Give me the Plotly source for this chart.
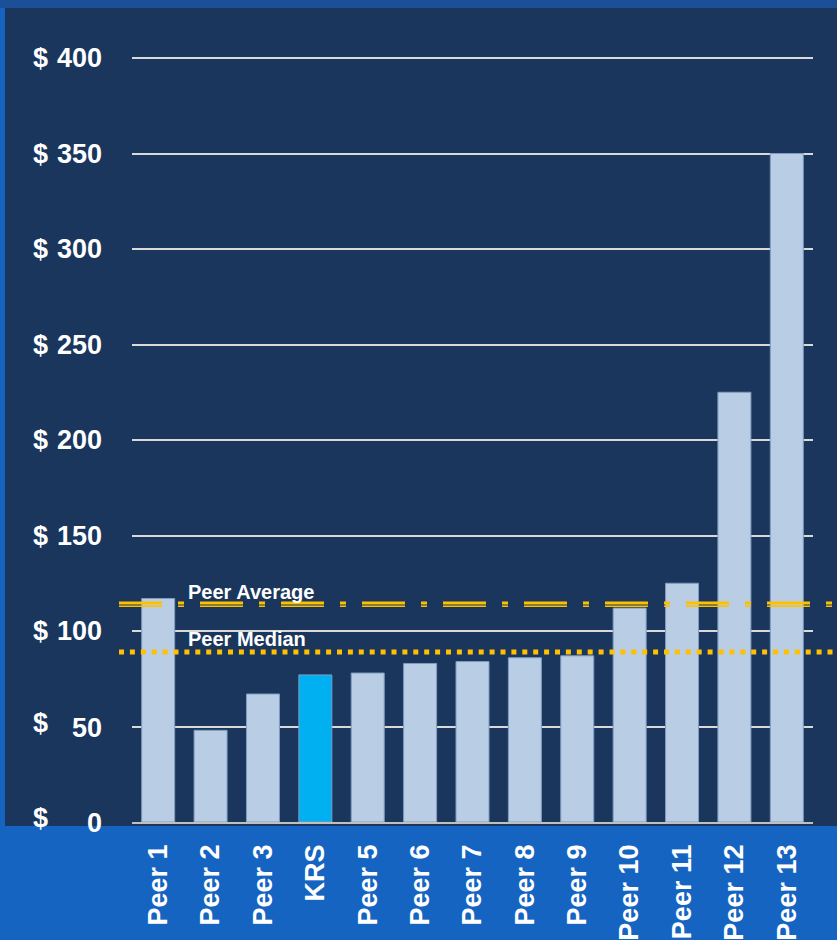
import plotly.graph_objects as go

categories = ["Peer 1", "Peer 2", "Peer 3", "KRS", "Peer 5", "Peer 6", "Peer 7",
              "Peer 8", "Peer 9", "Peer 10", "Peer 11", "Peer 12", "Peer 13"]
values = [117, 48, 67, 77, 78, 83, 84, 86, 87, 112, 125, 225, 350]
highlight = "KRS"
peer_average = 114
peer_median = 89
y_ticks = [0, 50, 100, 150, 200, 250, 300, 350, 400]
y_tick_numbers = ["0", "50", "100", "150", "200", "250", "300", "350", "400"]

W, H = 837, 940
L, R, T, B = 132, 24, 56, 118
PW, PH = W - L - R, H - T - B
Y_TOP = 401.05


def px_x(px):
    return (px - L) / PW


def px_y(py):
    return (H - B - py) / PH


NAVY = "#1a365d"
BRIGHT = "#1664c2"
GOLD = "#ffc000"
BAR = "#b9cde4"
KRS = "#00b0f0"
FONT = "Liberation Sans, Arial, sans-serif"

colors = [KRS if c == highlight else BAR for c in categories]

fig = go.Figure()
fig.add_trace(go.Bar(
    x=categories, y=values,
    marker=dict(color=colors, line=dict(color="#7f9cc0", width=1)),
    hoverinfo="x+y",
))

shapes = [
    # top strip
    dict(type="rect", xref="paper", yref="paper", x0=px_x(-5), x1=px_x(W + 5),
         y0=px_y(8), y1=px_y(-5), fillcolor="#1b4f98", line_width=0, layer="below"),
    # dark panel
    dict(type="rect", xref="paper", yref="paper", x0=px_x(5), x1=px_x(W + 5),
         y0=px_y(826), y1=px_y(8), fillcolor=NAVY, line_width=0, layer="below"),
]

# Peer average: double dash-dot line
for off, wd in [(0.7, 3), (-1.0, 1.5)]:
    shapes.append(dict(type="line", xref="paper", yref="y",
                       x0=px_x(119), x1=px_x(W + 5),
                       y0=peer_average + off, y1=peer_average + off,
                       line=dict(color=GOLD, width=wd, dash="43px,16px,6px,16px"),
                       layer="above"))
# Peer median: dotted line
shapes.append(dict(type="line", xref="paper", yref="y",
                   x0=px_x(119), x1=px_x(W + 5),
                   y0=peer_median, y1=peer_median,
                   line=dict(color=GOLD, width=5, dash="5px,5.9px"),
                   layer="above"))

annotations = [
    dict(text="<b>Peer Average</b>", xref="paper", yref="paper",
         x=px_x(186), y=px_y(591.5), xanchor="left", yanchor="middle",
         showarrow=False, font=dict(family=FONT, size=20, color="white")),
    dict(text="<b>Peer Median</b>", xref="paper", yref="paper",
         x=px_x(186), y=px_y(638.5), xanchor="left", yanchor="middle",
         showarrow=False, font=dict(family=FONT, size=20, color="white")),
]
for v, lab in zip(y_ticks, y_tick_numbers):
    dshift = 4 if v < 100 else 0
    nshift = -1 if v < 100 else 0
    annotations.append(dict(text="<b>$</b>", xref="paper", yref="y",
                            x=px_x(31), y=v, xanchor="left", yanchor="middle",
                            yshift=dshift, showarrow=False,
                            font=dict(family=FONT, size=27, color="white")))
    annotations.append(dict(text="<b>" + lab + "</b>", xref="paper", yref="y",
                            x=px_x(104), y=v, xanchor="right", yanchor="middle",
                            yshift=nshift, showarrow=False,
                            font=dict(family=FONT, size=27, color="white")))

fig.update_layout(
    width=W, height=H,
    margin=dict(l=L, r=R, t=T, b=B, pad=0, autoexpand=False),
    paper_bgcolor=BRIGHT,
    plot_bgcolor="rgba(0,0,0,0)",
    bargap=0.37,
    showlegend=False,
    shapes=shapes,
    annotations=annotations,
    xaxis=dict(
        type="category", showgrid=False, automargin=False,
        showline=True, linecolor="#c0c0c0", linewidth=1.5,
        tickangle=-90, ticks="",
        tickfont=dict(family=FONT, size=27, color="white", weight="bold"),
        ticklabelstandoff=10,
    ),
    yaxis=dict(
        range=[0, Y_TOP], tickvals=y_ticks, showticklabels=False,
        showgrid=True, gridcolor="#d9d9d9", gridwidth=1.6,
        zeroline=False, fixedrange=True, automargin=False,
    ),
)

fig.write_html("out.html")
